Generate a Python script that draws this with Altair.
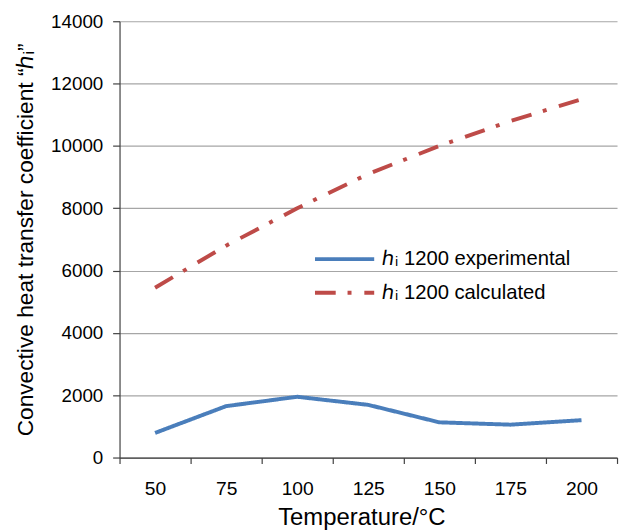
import altair as alt
import pandas as pd

temperatures = ["50", "75", "100", "125", "150", "175", "200"]
experimental = [790, 1650, 1950, 1690, 1130, 1055, 1200]
calculated = [5450, 6800, 8000, 9100, 10000, 10800, 11500]
series_names = ["ℎᵢ 1200 experimental", "ℎᵢ 1200 calculated"]
series_colors = ["#4A7EBB", "#BE4B48"]
y_ticks = [0, 2000, 4000, 6000, 8000, 10000, 12000, 14000]

rows = []
for t, e, c in zip(temperatures, experimental, calculated):
    rows.append({"temp": t, "value": e, "series": series_names[0]})
    rows.append({"temp": t, "value": c, "series": series_names[1]})
df = pd.DataFrame(rows)

FONT = "Liberation Sans"

legend = alt.Legend(
    title=None,
    orient="none",
    legendX=211,
    legendY=224,
    labelFont=FONT,
    labelFontSize=20.5,
    labelColor="#000000",
    labelOffset=21,
    labelLimit=0,
    symbolType="M-2,0L2,0",
    symbolSize=900,
    symbolStrokeWidth=4,
    padding=0,
    rowPadding=6,
)

chart = (
    alt.Chart(df)
    .mark_line(strokeWidth=4, strokeJoin="round")
    .encode(
        x=alt.X(
            "temp:O",
            sort=temperatures,
            bandPosition=0.5,
            scale=alt.Scale(type="band", paddingInner=0, paddingOuter=0),
            axis=alt.Axis(
                title="Temperature/°C",
                tickBand="extent",
                labelAngle=0,
                tickSize=6,
                labelBaseline="alphabetic",
                labelPadding=31,
                labelFontSize=19.5,
                titleBaseline="alphabetic",
                titleX=245,
                titleY=68,
                titleAlign="center",
                titleFontSize=24.2,
            ),
        ),
        y=alt.Y(
            "value:Q",
            scale=alt.Scale(domain=[0, 14000], nice=False),
            axis=alt.Axis(
                values=y_ticks,
                format="d",
                title="Convective heat transfer coefficient “ℎᵢ”",
                tickSize=7,
                labelPadding=10,
                grid=True,
                titleBaseline="alphabetic",
                titleAngle=270,
                titleX=-88,
            ),
        ),
        color=alt.Color(
            "series:N",
            scale=alt.Scale(domain=series_names, range=series_colors),
            legend=legend,
        ),
        strokeDash=alt.StrokeDash(
            "series:N",
            scale=alt.Scale(domain=series_names, range=[[1, 0], [21, 12, 4, 13]]),
            legend=legend,
        ),
    )
    .properties(
        width=504,
        height=442,
        padding={"left": 113, "top": 10, "right": 2, "bottom": 72},
        autosize=alt.AutoSizeParams(type="none"),
    )
    .configure_view(stroke=None)
    .configure_axis(
        domainColor="#404040",
        tickColor="#404040",
        domainWidth=1.2,
        tickWidth=1.2,
        gridColor="#a6a6a6",
        gridWidth=1.2,
        labelFont=FONT,
        labelFontSize=19,
        labelColor="#000000",
        titleFont=FONT,
        titleFontSize=23,
        titleFontWeight="normal",
        titleColor="#000000",
    )
    .configure_axisX(grid=False)
)

chart.save("out.html", embed_options={"renderer": "svg", "actions": False})
